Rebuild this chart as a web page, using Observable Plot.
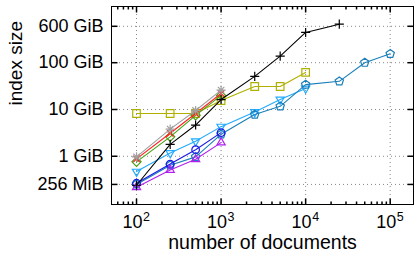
<!DOCTYPE html>
<html><head><meta charset="utf-8">
<script src="https://cdn.jsdelivr.net/npm/d3@7"></script>
<script src="https://cdn.jsdelivr.net/npm/@observablehq/plot@0.6"></script>
<style>body{margin:0;background:#fff} svg{display:block}</style>
</head><body><div id="chart"></div>
<script>
// number of documents (x) and index size in GiB (y)
const docs = [100, 250, 500, 1000, 2500, 5000, 10000, 25000, 50000, 100000];
const sizeGray   = [0.97, 3.8, 9.5, 26];
const sizeRed    = [0.88, 3.1, 8.2, 22];
const sizeGreen  = [0.76, 2.6, 7.5, 20];
const sizeBlack  = [0.24, 1.8, 4.65, 16.3, 51, 138, 443, 666];
const sizeOlive  = [8.2, 8.2, 8.2, 15.5, 31, 31, 62];
const sizeSky    = [0.47, 1.17, 2.1, 4.3, 8.8, 16.3, 28];
const sizeBlue   = [0.265, 0.68, 1.38, 3.2];
const sizeTeal   = [0.25, 0.64, 0.97, 2.95, 7.8, 11.7, 34, 40, 100, 155];
const sizePurple = [0.218, 0.51, 0.86, 1.96];

const xTicks = [100, 1000, 10000, 100000];
const xTickExp = ["2", "3", "4", "5"];
const yTicks = [0.25, 1, 10, 100, 600];
const yTickLabels = ["256 MiB", "1 GiB", "10 GiB", "100 GiB", "600 GiB"];
const xMinorTicks = [10, 100, 1000, 10000, 100000].flatMap(d => [2,3,4,5,6,7,8,9].map(k => k*d)).filter(v => v >= 51 && v <= 188000);

// custom symbols
const rad = s => Math.sqrt(s / Math.PI);
const sym = f => ({draw(c, s) { f(c, rad(s)); }});
const square = sym((c, r) => { c.rect(-r, -r, 2*r, 2*r); });
const circle = sym((c, r) => { c.moveTo(r, 0); c.arc(0, 0, r, 0, 2*Math.PI); });
const diamond = sym((c, r) => { c.moveTo(0, -r*1.2); c.lineTo(r*1.2, 0); c.lineTo(0, r*1.2); c.lineTo(-r*1.2, 0); c.closePath(); });
const triUp = sym((c, r) => { const R = r*1.25; c.moveTo(0, -R); c.lineTo(R*0.866, R*0.5); c.lineTo(-R*0.866, R*0.5); c.closePath(); });
const triDown = sym((c, r) => { const R = r*1.25; c.moveTo(0, R); c.lineTo(R*0.866, -R*0.5); c.lineTo(-R*0.866, -R*0.5); c.closePath(); });
const pentagon = sym((c, r) => { const R = r*1.15; for (let k = 0; k < 5; k++) { const a = -Math.PI/2 + k*2*Math.PI/5; const px = R*Math.cos(a), py = R*Math.sin(a); k ? c.lineTo(px, py) : c.moveTo(px, py); } c.closePath(); });
const plus = sym((c, r) => { const R = r*1.2; c.moveTo(-R, 0); c.lineTo(R, 0); c.moveTo(0, -R); c.lineTo(0, R); });
const times = sym((c, r) => { const R = r*0.85; c.moveTo(-R, -R); c.lineTo(R, R); c.moveTo(-R, R); c.lineTo(R, -R); });
const asterisk = sym((c, r) => { const R = r*1.2, q = r*0.85; c.moveTo(-R, 0); c.lineTo(R, 0); c.moveTo(0, -R); c.lineTo(0, R); c.moveTo(-q, -q); c.lineTo(q, q); c.moveTo(-q, q); c.lineTo(q, -q); });
const tickUp = sym((c, r) => { c.moveTo(0, 0); c.lineTo(0, -r); });
const tickDown = sym((c, r) => { c.moveTo(0, 0); c.lineTo(0, r); });
const tickRight = sym((c, r) => { c.moveTo(0, 0); c.lineTo(r, 0); });
const tickLeft = sym((c, r) => { c.moveTo(0, 0); c.lineTo(-r, 0); });

const series = [
  {values: sizeSky, color: "#22aaff", symbol: triDown},
  {values: sizeTeal, color: "#1a7fba", symbol: pentagon},
  {values: sizeBlue, color: "#1a1ae6", symbol: circle},
  {values: sizePurple, color: "#b020f0", symbol: triUp},
  {values: sizeOlive, color: "#b0b000", symbol: square},
  {values: sizeGreen, color: "#44a010", symbol: diamond},
  {values: sizeRed, color: "#ff2020", symbol: times},
  {values: sizeGray, color: "#a0a0a0", symbol: asterisk},
  {values: sizeBlack, color: "#000000", symbol: plus}
];

const marks = [
  Plot.ruleX(xTicks, {x: d => d, stroke: "#888", strokeDasharray: "1,3"}),
  Plot.ruleY(yTicks, {y: d => d, stroke: "#888", strokeDasharray: "1,3"}),
  Plot.dot(xTicks, {x: d => d, frameAnchor: "bottom", symbol: tickUp, r: 6, stroke: "#000"}),
  Plot.dot(xTicks, {x: d => d, frameAnchor: "top", symbol: tickDown, r: 6, stroke: "#000"}),
  Plot.dot(xMinorTicks, {x: d => d, frameAnchor: "bottom", symbol: tickUp, r: 3, stroke: "#000"}),
  Plot.dot(xMinorTicks, {x: d => d, frameAnchor: "top", symbol: tickDown, r: 3, stroke: "#000"}),
  Plot.dot(yTicks, {y: d => d, frameAnchor: "left", symbol: tickRight, r: 6, stroke: "#000"}),
  Plot.dot(yTicks, {y: d => d, frameAnchor: "right", symbol: tickLeft, r: 6, stroke: "#000"}),
  Plot.text(yTicks, {y: d => d, text: (d, i) => yTickLabels[i], frameAnchor: "left", textAnchor: "end", dx: -8, fontSize: 18, fill: "#000"}),
  Plot.text(xTicks, {x: d => d, text: () => "10", frameAnchor: "bottom", textAnchor: "end", lineAnchor: "bottom", dx: 6, dy: 23, fontSize: 18, fill: "#000"}),
  Plot.text(xTicks, {x: d => d, text: (d, i) => xTickExp[i], frameAnchor: "bottom", textAnchor: "start", lineAnchor: "bottom", dx: 6.5, dy: 16, fontSize: 12.5, fill: "#000"}),
  Plot.text(["number of documents"], {text: d => d, frameAnchor: "bottom", lineAnchor: "bottom", dy: 44, fontSize: 19.5, fill: "#000"}),
  Plot.text(["index size"], {text: d => d, frameAnchor: "left", lineAnchor: "bottom", rotate: -90, dx: -89.5, fontSize: 19, fill: "#000"})
];

for (const s of series) {
  const data = s.values.map((v, i) => ({docs: docs[i], size: v}));
  marks.push(Plot.line(data, {x: "docs", y: "size", stroke: s.color, strokeWidth: 1.1}));
  marks.push(Plot.dot(data, {x: "docs", y: "size", stroke: s.color, fill: "none", symbol: s.symbol, r: 3.8, strokeWidth: 1.2}));
}
marks.push(Plot.frame({stroke: "#000", strokeWidth: 1}));

const chart = Plot.plot({
  width: 415, height: 260,
  marginLeft: 111, marginRight: 2, marginTop: 6, marginBottom: 56,
  style: {fontFamily: "'Liberation Sans', Arial, sans-serif", background: "#fff", overflow: "visible"},
  x: {type: "log", domain: [50.6, 188600], axis: null},
  y: {type: "log", domain: [0.0931, 1590], axis: null},
  marks
});
document.getElementById("chart").appendChild(chart);
</script>
</body></html>
